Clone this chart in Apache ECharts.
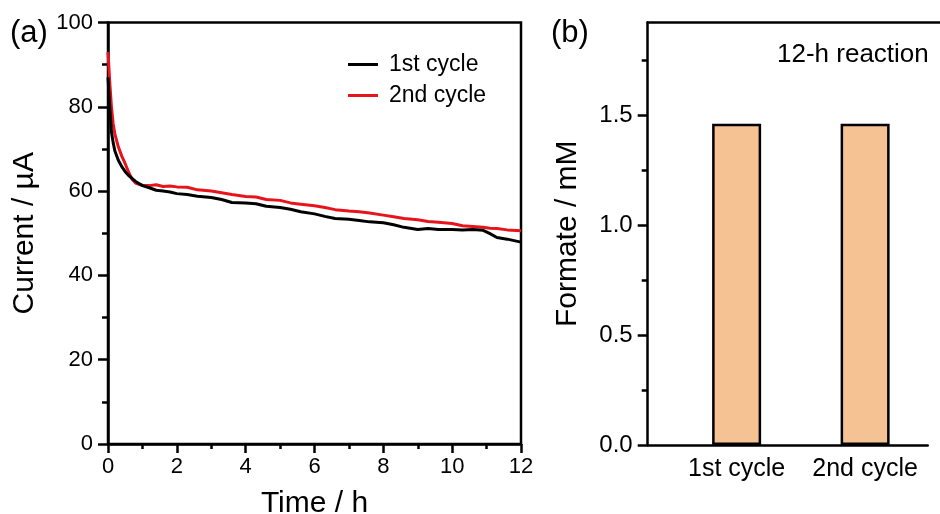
<!DOCTYPE html>
<html>
<head>
<meta charset="utf-8">
<script src="https://cdn.jsdelivr.net/npm/echarts@6/dist/echarts.min.js"></script>
<style>
  html, body { margin: 0; padding: 0; background: #fff; overflow: hidden; }
  #chart { width: 940px; height: 514px; }
</style>
</head>
<body>
<div id="chart"></div>
<script>
// (a) chronoamperometry: sampling times (h) and currents (µA) for two cycles
const timeHours = [0, 0.05, 0.1, 0.15, 0.2, 0.3, 0.4, 0.5, 0.6, 0.7, 0.8, 0.9, 1.0, 1.2, 1.4, 1.6, 1.8, 2.0, 2.3, 2.6, 3.0, 3.3, 3.6, 4.0, 4.3, 4.6, 5.0, 5.3, 5.6, 6.0, 6.3, 6.6, 7.0, 7.3, 7.6, 8.0, 8.3, 8.6, 9.0, 9.3, 9.6, 10.0, 10.3, 10.6, 10.9, 11.1, 11.3, 11.6, 12.0];
const cycle1Current = [87, 80, 74, 71.5, 69.5, 67.3, 65.8, 64.6, 63.7, 63.0, 62.3, 61.8, 61.3, 60.8, 60.2, 60.0, 59.8, 59.4, 59.2, 58.8, 58.5, 58.0, 57.3, 57.2, 57.0, 56.4, 56.1, 55.7, 55.1, 54.6, 54.0, 53.5, 53.3, 53.0, 52.7, 52.5, 52.0, 51.4, 50.9, 51.1, 50.9, 50.9, 50.8, 50.9, 50.7, 49.9, 49.0, 48.6, 47.9];
const cycle2Current = [93, 86, 80, 76, 73.5, 70.5, 68.3, 66.5, 64.5, 62.8, 61.9, 61.6, 61.4, 61.3, 61.5, 61.1, 61.2, 61.0, 60.9, 60.3, 60.0, 59.6, 59.2, 58.7, 58.6, 58.0, 57.8, 57.2, 56.9, 56.5, 56.1, 55.6, 55.3, 55.1, 54.8, 54.3, 53.9, 53.5, 53.2, 52.8, 52.6, 52.3, 51.8, 51.6, 51.4, 51.2, 51.1, 50.8, 50.6];
const seriesNames = ['1st cycle', '2nd cycle'];

// (b) formate after a 12-h reaction, per cycle
const cycleLabels = ['1st cycle', '2nd cycle'];
const cyclePositions = [1, 2];
const formateMM = [1.46, 1.46];
const formateTicks = [0, 0.5, 1.0, 1.5];
const formateMinorTicks = [0.25, 0.75, 1.25, 1.75];

const FONT = 'Liberation Sans, Arial, sans-serif';
const BLACK = '#000';
const RED = '#e8141c';
const BAR_FILL = '#f5c393';

const pair = (xs, ys) => xs.map((x, i) => [x, ys[i]]);

const chart = echarts.init(document.getElementById('chart'), null, { renderer: 'canvas' });

const axisLine = { show: true, onZero: false, lineStyle: { color: BLACK, width: 2.5 } };

// panel (b) x range, open towards the right
const B_MIN = 0.308, B_MAX = 2.487, B_TOP = 1.92;

chart.setOption({
  animation: false,
  backgroundColor: '#fff',
  textStyle: { fontFamily: FONT, color: BLACK },
  grid: [
    { left: 108, top: 22.5, width: 413, height: 421.5, show: true, borderColor: BLACK, borderWidth: 2.5, backgroundColor: 'transparent', outerBoundsMode: 'none' },
    { left: 647.7, top: 22.5, width: 280, height: 422.5, show: false, outerBoundsMode: 'none' },
    // holds only the minor ticks of panel (b)
    { left: 647.7, top: 22.5, width: 40, height: 422.5, show: false, outerBoundsMode: 'none' },
    // thin strip carrying the top frame line of panel (b) out to the canvas edge
    { left: 647.7, top: 22.5, width: 310, height: 3, show: false, outerBoundsMode: 'none' }
  ],
  legend: {
    data: seriesNames,
    orient: 'vertical',
    left: 348,
    top: 51,
    padding: 0,
    itemWidth: 30,
    itemHeight: 3,
    itemGap: 4,
    icon: 'rect',
    textStyle: { fontFamily: FONT, fontSize: 23, color: BLACK, padding: [0, 0, 0, 6], lineHeight: 27 }
  },
  xAxis: [
    {
      gridIndex: 0, type: 'value', min: 0, max: 12, interval: 2,
      axisLine: axisLine,
      axisTick: { show: true, inside: false, length: 9, lineStyle: { color: BLACK, width: 2.5 } },
      minorTick: { show: true, splitNumber: 2, length: 5, lineStyle: { color: BLACK, width: 2.5 } },
      splitLine: { show: false },
      minorSplitLine: { show: false },
      axisLabel: { fontFamily: FONT, fontSize: 22, color: BLACK, margin: 12 },
      name: 'Time / h', nameLocation: 'middle', nameGap: 45,
      nameTextStyle: { fontFamily: FONT, fontSize: 30, color: BLACK }
    },
    {
      gridIndex: 1, type: 'value', min: B_MIN, max: B_MAX,
      axisLine: axisLine,
      axisTick: { show: false },
      splitLine: { show: false },
      axisLabel: {
        fontFamily: FONT, fontSize: 25, color: BLACK, margin: 12,
        customValues: cyclePositions,
        formatter: v => cycleLabels[cyclePositions.indexOf(Math.round(v))] || ''
      }
    },
    { gridIndex: 2, type: 'value', min: 0, max: 1, show: false },
    {
      gridIndex: 3, type: 'value', min: 0, max: 1, position: 'top',
      axisLine: axisLine,
      axisTick: { show: false },
      axisLabel: { show: false },
      splitLine: { show: false }
    }
  ],
  yAxis: [
    {
      gridIndex: 0, type: 'value', min: 0, max: 100, interval: 20,
      axisLine: axisLine,
      axisTick: { show: true, inside: false, length: 10, lineStyle: { color: BLACK, width: 2.5 } },
      minorTick: { show: true, splitNumber: 2, length: 6, lineStyle: { color: BLACK, width: 2.5 } },
      splitLine: { show: false },
      minorSplitLine: { show: false },
      axisLabel: { fontFamily: FONT, fontSize: 22, color: BLACK, margin: 15 },
      name: 'Current / µA', nameLocation: 'middle', nameGap: 68,
      nameTextStyle: { fontFamily: FONT, fontSize: 30, color: BLACK }
    },
    {
      gridIndex: 1, type: 'value', min: 0, max: B_TOP,
      axisLine: axisLine,
      axisTick: { show: true, inside: false, length: 10, customValues: formateTicks, lineStyle: { color: BLACK, width: 2.5 } },
      splitLine: { show: false },
      axisLabel: {
        fontFamily: FONT, fontSize: 24, color: BLACK, margin: 15,
        customValues: formateTicks,
        formatter: v => v.toFixed(1)
      },
      name: 'Formate / mM', nameLocation: 'middle', nameGap: 65,
      nameTextStyle: { fontFamily: FONT, fontSize: 30, color: BLACK }
    },
    {
      gridIndex: 2, type: 'value', min: 0, max: B_TOP, position: 'left',
      axisLine: { show: false, onZero: false },
      axisTick: { show: true, inside: false, length: 6, customValues: formateMinorTicks, lineStyle: { color: BLACK, width: 2.5 } },
      axisLabel: { show: false },
      splitLine: { show: false }
    },
    { gridIndex: 3, type: 'value', min: 0, max: 1, show: false }
  ],
  series: [
    {
      name: seriesNames[0], type: 'line', xAxisIndex: 0, yAxisIndex: 0,
      data: pair(timeHours, cycle1Current),
      symbol: 'none', showSymbol: false, z: 3,
      lineStyle: { color: BLACK, width: 3 }, itemStyle: { color: BLACK }
    },
    {
      name: seriesNames[1], type: 'line', xAxisIndex: 0, yAxisIndex: 0,
      data: pair(timeHours, cycle2Current),
      symbol: 'none', showSymbol: false, z: 2,
      lineStyle: { color: RED, width: 3 }, itemStyle: { color: RED }
    },
    {
      name: 'Formate', type: 'bar', xAxisIndex: 1, yAxisIndex: 1,
      data: pair(cyclePositions, formateMM),
      barWidth: 49,
      itemStyle: { color: BAR_FILL, borderColor: BLACK, borderWidth: 2.5 }
    }
  ],
  graphic: [
    { type: 'text', left: 10, top: 18, style: { text: '(a)', font: '31px ' + FONT, fill: BLACK } },
    { type: 'text', left: 551, top: 18, style: { text: '(b)', font: '31px ' + FONT, fill: BLACK } },
    { type: 'text', left: 777, top: 42, style: { text: '12-h reaction', font: '26px ' + FONT, fill: BLACK } }
  ]
});
</script>
</body>
</html>
